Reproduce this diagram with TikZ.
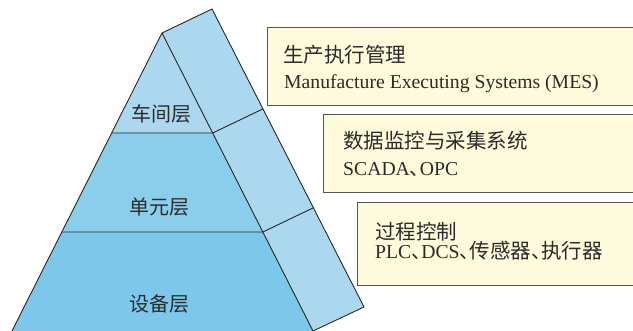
\documentclass[tikz,border=0pt]{standalone}
\usepackage{fontspec}
\setmainfont{Liberation Serif}
\newfontfamily\cjk{Noto Sans CJK SC}
\newcommand\dunhao{\makebox[10pt][l]{\cjk 、}}
\definecolor{sideblue}{HTML}{ABD8EE}
\definecolor{topblue}{HTML}{ABD8EE}
\definecolor{midblue}{HTML}{8ACEEC}
\definecolor{botblue}{HTML}{7DC8EA}
\definecolor{boxfill}{HTML}{FEFADC}
\definecolor{boxline}{HTML}{555555}
\definecolor{txt}{HTML}{2B2B2B}
\tikzset{
  edge/.style={draw=black!85, line width=0.9pt, line join=round},
  infobox/.style={fill=boxfill, draw=boxline, line width=1pt},
  layerlabel/.style={inner sep=0, text=txt, font=\cjk\fontsize{20}{24}\selectfont},
  cjkline/.style={anchor=base west, inner sep=0, text height=16pt, text depth=2pt, text=txt, font=\cjk\fontsize{20.5}{24}\selectfont},
  latinline/.style={anchor=base west, inner sep=0, text height=14pt, text depth=4pt, text=txt, font=\fontsize{19.7}{23}\selectfont},
}
\begin{document}
\begin{tikzpicture}[x=1pt,y=-1pt]
\clip (0,0) rectangle (633,331);
% key points
\coordinate (A) at (162,33);
\coordinate (L1) at (111.7,133);
\coordinate (R1) at (212.7,133);
\coordinate (L2) at (61.9,232);
\coordinate (R2) at (262.9,232);
\coordinate (L3) at (12,331);
\coordinate (R3) at (313,331);
\coordinate (B) at (212,9);
\coordinate (B1) at (262.7,109);
\coordinate (B2) at (312.9,208);
\coordinate (B3) at (364,307);
% side face
\path[fill=sideblue] (A) -- (B) -- (B3) -- (R3) -- cycle;
% front layers
\path[fill=topblue] (A) -- (R1) -- (L1) -- cycle;
\path[fill=midblue] (L1) -- (R1) -- (R2) -- (L2) -- cycle;
\path[fill=botblue] (L2) -- (R2) -- (R3) -- (L3) -- cycle;
% edges
\draw[edge] (L3) -- (A) -- (R3) -- (B3) -- (B) -- (A);
\draw[edge] (L1) -- (R1) -- (B1);
\draw[edge] (L2) -- (R2) -- (B2);
% labels
\node[layerlabel] (lab1) at (161,114) {车间层};
\node[layerlabel] (lab2) at (159,207) {单元层};
\node[layerlabel] (lab3) at (159,304) {设备层};
% boxes
\draw[infobox] (267,28) rectangle (645,106);
\draw[infobox] (323,115) rectangle (645,193);
\draw[infobox] (357,203) rectangle (645,286);
\node[cjkline] (m1) at (283,63) {生产执行管理};
\node[latinline] (m2) at (284,89) {Manufacture Executing Systems (MES)};
\node[cjkline] (s1) at (343,149) {数据监控与采集系统};
\node[latinline] (s2) at (343,176) {SCADA\dunhao OPC};
\node[cjkline] (p1) at (375,239.5) {过程控制};
\node[latinline] (p2) at (375,259) {PLC\dunhao DCS\dunhao{\cjk\fontsize{20.5}{24}\selectfont 传感器}\dunhao{\cjk\fontsize{20.5}{24}\selectfont 执行器}};
\end{tikzpicture}
\end{document}
